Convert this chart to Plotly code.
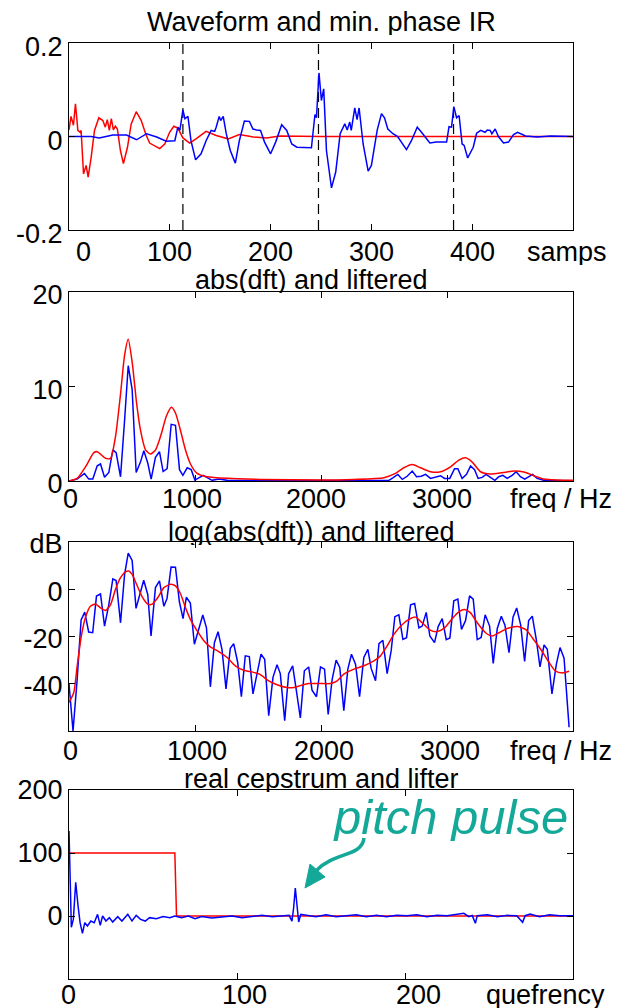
import plotly.graph_objects as go

# ---------------- data ----------------
# Panel 1: waveform (blue) and minimum-phase impulse response (red)
wave_n = [0, 22, 30, 43.5, 57, 67, 77, 87, 96.5, 105, 108, 110, 113, 115, 118, 121, 125.6, 131, 136, 141,
          144.5, 146, 149, 150.5, 153, 156, 160, 165, 169, 174, 179, 182.5, 186, 190, 194, 200, 205, 211, 216, 221,
          226, 232, 240.5, 244, 245.5, 248, 250.4, 252.7, 255.4, 260.4, 264.6, 269, 273.6, 276, 278.5, 280, 283.5, 285.8, 287.8, 291.8,
          296.8, 300, 305.7, 310, 313, 316.3, 321.4, 326, 334.8, 339.7, 345.5, 349.7, 358, 364.5, 374.6, 377, 379.5, 381.8, 384.5, 387,
          390, 392, 395.5, 401, 404.4, 408.4, 412.7, 415, 417.8, 419.5, 422.8, 426, 431, 436, 441, 445, 453, 464.5, 477.7, 500]
wave_v = [0, 0, -0.003, 0.003, 0.003, -0.007, 0.006, -0.001, -0.01, -0.009, 0.02, 0.013, 0.057, 0.038, 0.043, -0.009, -0.05, -0.037, -0.009, 0.013,
          0.011, 0.02, 0.043, 0.034, 0.043, 0.006, -0.03, -0.057, -0.009, 0.033, 0.032, 0.016, 0.014, 0.013, -0.012, -0.037, -0.012, 0.025, 0.013, -0.016,
          -0.023, -0.024, -0.024, 0.047, 0.04, 0.136, 0.077, 0.102, -0.03, -0.11, -0.076, 0.006, 0.027, 0.014, 0.031, 0.013, 0.061, 0.036, 0.061, -0.016,
          -0.074, -0.062, 0.013, 0.049, 0.04, 0.016, 0.006, 0, -0.028, -0.009, 0.02, 0.009, -0.014, -0.012, -0.012, 0.021, 0.02, 0.064, 0.04, 0.045,
          -0.016, -0.019, -0.046, -0.023, 0.007, 0.013, 0.009, 0.014, 0.013, 0.006, 0.016, 0, -0.014, -0.012, 0.004, 0.009, 0.001, -0.001, 0.001, 0]
ir_n = [0, 2, 4.4, 6.4, 8.8, 11, 12, 14.4, 17, 19, 22, 25.3, 29.6, 33.6, 36, 38, 40, 42, 44, 46,
        48, 51, 54, 58, 61.7, 66.7, 71.7, 76, 80, 84, 90, 95, 99.8, 104, 108, 113, 119.7, 126, 136, 146,
        158, 169, 183, 196, 209, 250, 500]
ir_v = [0.014, 0.043, 0.024, 0.07, 0.013, 0.009, 0.013, -0.08, -0.062, -0.087, -0.044, 0.013, 0.04, 0.034, 0.02, 0.036, 0.013, 0.038, 0.014, 0.022,
        0.016, -0.03, -0.058, -0.023, 0.027, 0.053, 0.034, 0.006, -0.014, -0.019, -0.026, -0.016, 0.009, 0.022, 0.018, -0.003, -0.014, -0.005, 0.011, 0.002,
        -0.005, 0.004, -0.001, -0.003, 0.001, 0, 0]
pulse_n = [113, 247.5, 381.5]

# Panel 2: abs(dft) (blue) and liftered (red)
spec_f = [0, 64, 123, 157, 189, 224, 250, 282, 316, 348, 374, 409, 441, 470, 501, 533, 567, 594, 625, 652,
          686, 718, 747, 779, 811, 845, 877, 904, 938, 970, 999, 1030, 1065, 1097, 1136, 1189, 1255, 1917, 2446, 2539,
          2573, 2610, 2645, 2684, 2724, 2758, 2795, 2830, 2869, 2909, 2949, 2980, 3022, 3060, 3086, 3120, 3155, 3187, 3219, 3247,
          3279, 3310, 3345, 3380, 3411, 3443, 3478, 3517, 3549, 3583, 3617, 3649, 3680, 3715, 3769, 3875, 4000]
spec_abs = [0, 0.2, 0.8, 0.2, 0.2, 1.6, 1.8, 0.4, 0.9, 3.3, 3.0, 0.45, 6.4, 12.2, 9.7, 0.9, 2.0, 3.2, 1.9, 0.2,
            2.5, 3.1, 1.0, 1.3, 6.0, 5.9, 1.2, 0.6, 1.4, 1.2, 0.1, 0.35, 0.6, 0.35, 0.07, 0.2, 0.07, 0.05, 0.05, 0.07,
            0.35, 0.7, 0.17, 0.5, 1.05, 0.45, 0.5, 0.7, 0.27, 0.38, 0.56, 0.27, 0.27, 1.3, 1.3, 0.27, 0.7, 1.6, 1.2, 0.27,
            0.38, 0.7, 0.38, 0.07, 0.45, 0.6, 0.27, 0.6, 0.98, 0.45, 0.2, 0.45, 0.7, 0.27, 0.07, 0.05, 0.02]
lift_f = [0, 64, 131, 197, 224, 290, 330, 369, 409, 441, 470, 501, 536, 567, 607, 647, 687, 726, 774, 813,
          845, 884, 924, 964, 1017, 1096, 1255, 1519, 1995, 2260, 2499, 2591, 2657, 2724, 2790, 2869, 2949, 3028, 3094, 3147,
          3200, 3266, 3345, 3438, 3531, 3610, 3690, 3769, 3875, 4000]
lift_abs = [0, 0.28, 1.5, 3.0, 3.1, 2.4, 2.4, 4.7, 9.2, 13.3, 15.0, 12.6, 8.3, 5.4, 3.3, 2.85, 3.3, 4.7, 6.9, 7.8,
            7.2, 5.4, 3.3, 1.8, 0.8, 0.45, 0.28, 0.17, 0.1, 0.17, 0.35, 0.8, 1.4, 1.75, 1.4, 0.98, 0.98, 1.5, 2.2, 2.45,
            2.0, 0.98, 0.74, 0.88, 1.05, 0.95, 0.56, 0.2, 0.1, 0.07]

# Panel 3: log(abs(dft)) (blue) and liftered (red), dB
logspec_f = [0, 32, 64, 96, 125, 156, 188, 218, 250, 282, 316, 348, 374, 409, 441, 470, 501, 532, 562, 593,
             625, 651, 686, 718, 753, 778, 810, 845, 876, 905, 931, 963, 995, 1030, 1062, 1091, 1122, 1154, 1183, 1214,
             1246, 1280, 1307, 1339, 1368, 1399, 1431, 1460, 1492, 1524, 1553, 1585, 1619, 1651, 1677, 1712, 1743, 1775, 1804, 1836,
             1868, 1902, 1929, 1964, 1996, 2028, 2057, 2089, 2120, 2149, 2181, 2213, 2242, 2274, 2306, 2340, 2372, 2398, 2433, 2460,
             2491, 2525, 2557, 2586, 2618, 2650, 2679, 2711, 2743, 2777, 2803, 2835, 2864, 2901, 2930, 2962, 2994, 3023, 3054, 3086,
             3115, 3147, 3179, 3208, 3240, 3271, 3303, 3338, 3367, 3399, 3431, 3460, 3492, 3524, 3553, 3585, 3616, 3648, 3677, 3709,
             3738, 3770, 3796, 3833, 3868, 3897, 3929, 3969]
logspec_db = [-40, -60, -38.7, -13, -9.7, -18.1, -18.4, -2.9, -2, -15.6, -6.5, 4.4, 3.7, -14.2, 6.2, 15.3, 12.2, -8.1, -2.2, 3.8,
              -2.2, -19.8, 0.7, 3.5, -7.2, -3.9, 9.4, 9.3, -5.3, -12.4, -3.4, -5.8, -23.3, -16.3, -10.9, -16.3, -41.3, -22.6, -18, -25.4,
              -42.2, -25, -23, -31, -45.5, -28.2, -28.5, -44.3, -35.9, -27.5, -29.6, -53.5, -37.3, -32, -35.7, -55.6, -35.7, -32.4, -42.7, -54.5,
              -34.5, -32.9, -42.7, -45.5, -32.9, -33.8, -53, -38, -30, -33.1, -51.4, -33.8, -27.5, -31.7, -45.5, -28.9, -25.4, -33.5, -38.7, -23,
              -21.6, -35.7, -26, -11.6, -10.8, -21.2, -20.5, -6.6, -6, -16.3, -15.6, -9.8, -19.8, -22.6, -15.8, -12.4, -21.3, -20.6, -4.9, -4.2,
              -17, -13.3, -2.8, -4.2, -21.3, -20.4, -10.8, -15.6, -31.4, -16.6, -11.4, -15.2, -26.8, -11.8, -7.9, -15.2, -30.6, -13.2, -11.4, -21.4,
              -32.9, -23.6, -25.4, -44.3, -31.7, -24.7, -29.2, -58.4]
loglift_f = [0, 38, 64, 96, 131, 170, 210, 250, 290, 330, 369, 409, 448, 475, 501, 536, 581, 625, 660, 705,
             753, 806, 845, 884, 924, 969, 1017, 1070, 1122, 1189, 1255, 1320, 1387, 1452, 1513, 1585, 1651, 1730, 1783, 1836,
             1902, 1995, 2075, 2128, 2181, 2261, 2340, 2420, 2472, 2525, 2578, 2645, 2711, 2750, 2803, 2870, 2923, 2976, 3042, 3094,
             3139, 3187, 3240, 3306, 3359, 3412, 3478, 3558, 3624, 3677, 3743, 3810, 3862, 3915, 3969]
loglift_db = [-47.9, -43.7, -33, -20.4, -11.8, -7.2, -6.2, -7.9, -9, -6.5, 0, 4.9, 7.4, 7.7, 6.3, 2.1, -3.2, -6.3, -6.3, -3.5,
              0.7, 2.1, 1.4, -1.8, -7.7, -13.4, -17.6, -21.8, -24.4, -26.4, -28.9, -32.4, -34.3, -35, -35.9, -38.8, -40.4, -41.6, -41.6, -40.8,
              -39.9, -39.9, -39.9, -38.8, -35.9, -33.8, -32.4, -30.3, -28.2, -24, -19.1, -14.9, -12.4, -11.8, -14.2, -17.4, -17.9, -16.6, -12.4, -9.6,
              -8.6, -10, -14.2, -18.4, -19.8, -18.4, -16.6, -15.8, -17, -20.5, -25.4, -31, -34.7, -35.4, -34.7]

# Panel 4: real cepstrum (blue) and lifter (red)
ceps_q = [0, 1.4, 2.6, 4, 5.4, 6.6, 8, 9.4, 11, 13, 15, 17, 18.6, 20, 22, 24, 26, 29, 31.5, 35,
          37.5, 40, 42.6, 45.4, 48, 52, 56, 60, 63, 67, 71, 75, 79, 85, 91, 97, 103, 109, 115, 121,
          127, 131, 132.7, 133.7, 134.7, 135.7, 136.7, 138, 141.5, 147, 153, 159, 165, 171, 177, 183, 189, 195, 201, 207,
          213, 219, 225, 231, 235, 238, 240, 241.9, 243, 249, 255, 261, 266.5, 270, 271.5, 274.5, 280, 286, 292, 300]
ceps_v = [135, -18, -5, 53.5, 15.9, -10.6, -27.5, -10.6, -15.9, -8, -10.6, 2.6, -14.8, 0, -8, -2.6, -9.5, -1, -8, 2.6,
          -8, 1, -5.3, -8, -2.6, -4.2, -1, -2.6, 0, -2.6, 0, -4.2, -1, -3, -1.6, 0, -2.6, -1, 1, -1,
          0, 1, -8, 12.7, 44.4, 15.3, -9.5, 2.6, 1.6, -1, 2, -1, 0.5, 2, -1, 1, -1, 1, 0.5, 2,
          -1, 1, 0.5, 3, 4.2, -1, 1, -11.6, 0.5, 2, -1, 1, 0.5, -10, 0.5, 3, -1, 2, 0.5, 0.5]
lifter_q = [0, 63, 64, 300]
lifter_v = [100, 100, 0, 0]

# tick labels
x1_ticks = [0, 100, 200, 300, 400]
xf_ticks = [0, 1000, 2000, 3000]
x4_ticks = [0, 100, 200]

# ---------------- layout helpers ----------------
# The page body adds an 8 px margin, so the figure is drawn 8 px smaller and
# all target positions (given in window pixels) are shifted by that amount.
OFF = 8
W, H = 620 - OFF, 1008 - OFF
L, R, T, B = 69 - OFF, 573 - OFF, 43 - OFF, 979 - OFF


def pxx(p):
    return (p - OFF - L) / (R - L)


def pxy(p):
    return (B - (p - OFF)) / (B - T)


BLUE = "#0000ff"
RED = "#ff0000"
TEAL = "#14a898"
FONT = "Liberation Sans, Arial, Helvetica, sans-serif"
FS = 27
LW = 1.5

fig = go.Figure()

# panel 1
dash_x, dash_y = [], []
for n in pulse_n:
    dash_x += [n, n, None]
    dash_y += [-0.2, 0.2, None]
fig.add_trace(go.Scatter(x=dash_x, y=dash_y, mode="lines", xaxis="x", yaxis="y",
                         line=dict(color="black", width=1.2, dash="10px,6px")))
fig.add_trace(go.Scatter(x=ir_n, y=ir_v, mode="lines", xaxis="x", yaxis="y",
                         line=dict(color=RED, width=LW)))
fig.add_trace(go.Scatter(x=wave_n, y=wave_v, mode="lines", xaxis="x", yaxis="y",
                         line=dict(color=BLUE, width=LW)))
# panel 2
fig.add_trace(go.Scatter(x=spec_f, y=spec_abs, mode="lines", xaxis="x2", yaxis="y2",
                         line=dict(color=BLUE, width=LW)))
fig.add_trace(go.Scatter(x=lift_f, y=lift_abs, mode="lines", xaxis="x2", yaxis="y2",
                         line=dict(color=RED, width=LW, shape="spline", smoothing=0.6)))
# panel 3
fig.add_trace(go.Scatter(x=logspec_f, y=logspec_db, mode="lines", xaxis="x3", yaxis="y3",
                         line=dict(color=BLUE, width=LW)))
fig.add_trace(go.Scatter(x=loglift_f, y=loglift_db, mode="lines", xaxis="x3", yaxis="y3",
                         line=dict(color=RED, width=LW, shape="spline", smoothing=0.6)))
# panel 4
fig.add_trace(go.Scatter(x=lifter_q, y=lifter_v, mode="lines", xaxis="x4", yaxis="y4",
                         line=dict(color=RED, width=LW)))
fig.add_trace(go.Scatter(x=ceps_q, y=ceps_v, mode="lines", xaxis="x4", yaxis="y4",
                         line=dict(color=BLUE, width=LW)))

axis_common = dict(showline=True, linecolor="black", linewidth=1.3, mirror="allticks",
                   ticks="inside", ticklen=6, tickwidth=1, tickcolor="black",
                   showgrid=False, zeroline=False, automargin=False,
                   tickfont=dict(family=FONT, size=FS, color="black"))

doms = [(230, 43), (481, 292), (731, 542), (979, 790)]

fig.update_layout(
    template="none",
    width=W, height=H,
    margin=dict(l=L, r=W - R, t=T, b=H - B, pad=0, autoexpand=False),
    paper_bgcolor="white", plot_bgcolor="white",
    showlegend=False,
    font=dict(family=FONT, size=FS, color="black"),
    xaxis=dict(axis_common, domain=[0, 1], anchor="y", range=[0, 500],
               tickvals=[100, 200, 300, 400], showticklabels=False),
    yaxis=dict(axis_common, domain=[pxy(doms[0][0]), pxy(doms[0][1])], anchor="x", range=[-0.2, 0.2],
               tickvals=[-0.2, 0, 0.2], ticktext=["-0.2", "0", "0.2"], ticklabelshift=4),
    xaxis2=dict(axis_common, domain=[0, 1], anchor="y2", range=[0, 4000],
                tickvals=xf_ticks, showticklabels=False),
    yaxis2=dict(axis_common, domain=[pxy(doms[1][0]), pxy(doms[1][1])], anchor="x2", range=[0, 20],
                tickvals=[0, 10, 20], ticktext=["0", "10", "20"], ticklabelshift=3),
    xaxis3=dict(axis_common, domain=[0, 1], anchor="y3", range=[0, 4000],
                tickvals=xf_ticks, showticklabels=False),
    yaxis3=dict(axis_common, domain=[pxy(doms[2][0]), pxy(doms[2][1])], anchor="x3", range=[-60, 20],
                tickvals=[-40, -20, 0, 20], ticktext=["-40", "-20", "0", "dB"], ticklabelshift=2),
    xaxis4=dict(axis_common, domain=[0, 1], anchor="y4", range=[0, 300],
                tickvals=[100, 200], showticklabels=False),
    yaxis4=dict(axis_common, domain=[pxy(doms[3][0]), pxy(doms[3][1])], anchor="x4", range=[-100, 200],
                tickvals=[0, 100, 200], ticktext=["0", "100", "200"], ticklabelshift=0),
)

ann = []


def txt(text, x, y, size=FS, color="black", italic=False, xanchor="center"):
    ann.append(dict(text=text, x=pxx(x), y=pxy(y), xref="paper", yref="paper",
                    xanchor=xanchor, yanchor="middle", showarrow=False,
                    height=int(size), borderpad=0,
                    font=dict(family=FONT, size=size, color=color,
                              style="italic" if italic else "normal")))


def xlab(values, xref, y, shifts):
    for v, s in zip(values, shifts):
        ann.append(dict(text=str(v), x=v, y=pxy(y), xref=xref, yref="paper",
                        xanchor="center", yanchor="middle", showarrow=False, xshift=s,
                        height=int(FS), borderpad=0,
                        font=dict(family=FONT, size=FS, color="black")))


txt("Waveform and min. phase IR", 321, 21)
txt("abs(dft) and liftered", 311, 279)
txt("log(abs(dft)) and liftered", 311, 531)
txt("real cepstrum and lifter", 321, 778)

xlab(x1_ticks, "x", 251, [14, 0, 0, 0, 0])
xlab(xf_ticks, "x2", 498, [1, -3, -5, -5])
xlab(xf_ticks, "x3", 750, [1, 2, 3, 3])
xlab(x4_ticks, "x4", 994, [-1, 7, 13])

txt("samps", 608, 251, xanchor="right")
txt("freq / Hz", 613, 498, xanchor="right")
txt("freq / Hz", 613, 750, xanchor="right")
txt("quefrency", 606, 994, xanchor="right")
txt("pitch pulse", 450, 816, size=49, color=TEAL, italic=True)
fig.update_layout(annotations=ann)


def P(x, y):
    return f"{pxx(x):.5f},{pxy(y):.5f}"


curve = f"M {P(364, 838)} C {P(362, 857)} {P(334, 852)} {P(317, 870)}"
head = f"M {P(305, 888)} L {P(310, 864)} L {P(325, 877)} Z"
fig.update_layout(shapes=[
    dict(type="path", path=curve, xref="paper", yref="paper",
         line=dict(color=TEAL, width=3.5)),
    dict(type="path", path=head, xref="paper", yref="paper",
         line=dict(color=TEAL, width=1), fillcolor=TEAL),
])

fig.write_html("out.html")
